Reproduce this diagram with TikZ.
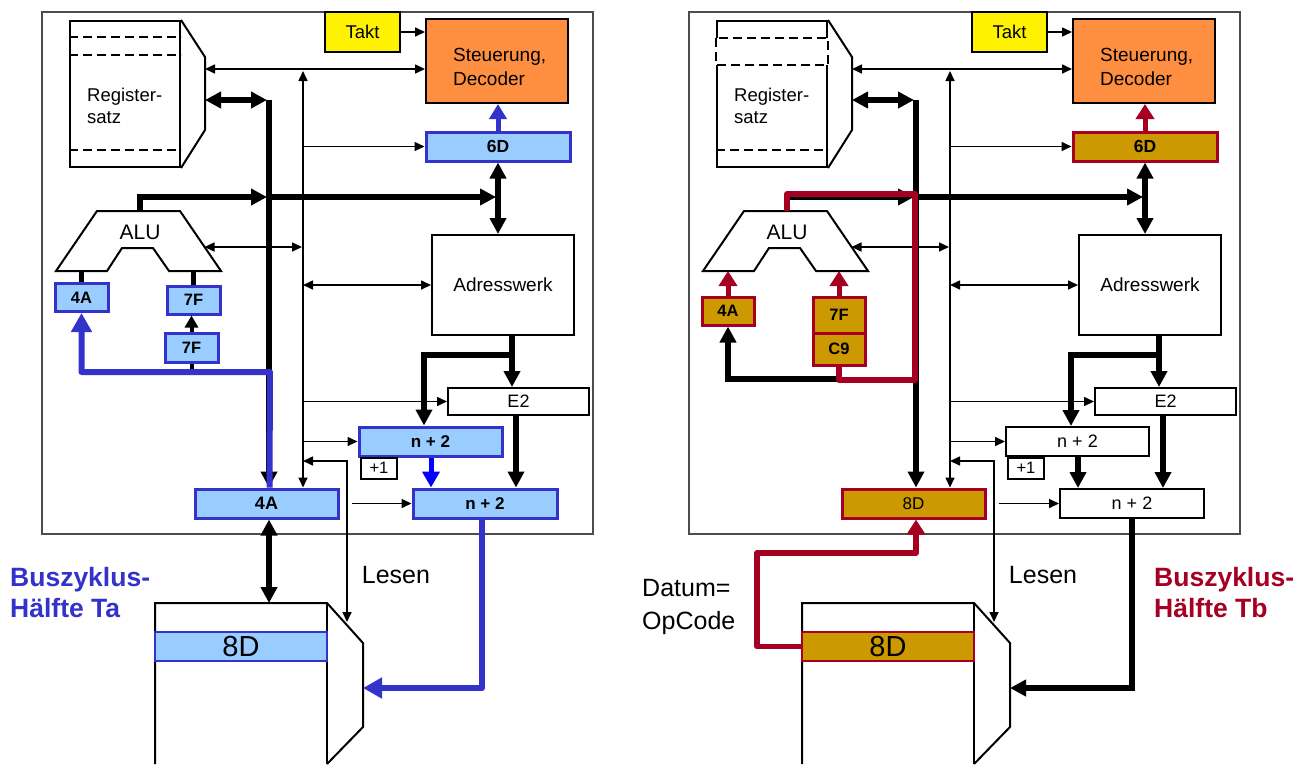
\documentclass[tikz,border=0pt]{standalone}
\usepackage{fontspec}
\setmainfont{Liberation Sans}
\usetikzlibrary{arrows.meta}

\definecolor{paleblue}{HTML}{99CCFF}
\definecolor{penblue}{HTML}{3333CC}
\definecolor{pureblue}{HTML}{0000FF}
\definecolor{ochre}{HTML}{CC9900}
\definecolor{wine}{HTML}{A50021}
\definecolor{ctrlorange}{HTML}{FF8F40}

\newcommand{\fsz}[2]{\fontsize{#1}{#2}\selectfont}

% everything both CPU panels share; #1 = contents of the bus register
\newcommand{\cpupanel}[1]{%
  \draw[panel] (42,12) rectangle (593,534);
  % register file
  \node[unit, anchor=north west, minimum width=110, minimum height=146] (regs) at (69,20) {};
  \draw[unit] (regs.north east) -- ++(24,37) coordinate (rport) -- ++(0,73) -- (regs.south east);
  \draw[slot] (regs.west |- 0,150) -- (regs.east |- 0,150);
  \node[txt, anchor=west, font=\fsz{18.5}{22}] (regname) at (87,106) {Register-\\satz};
  % clock and control unit
  \node[unit, fill=yellow, minimum width=75, minimum height=40, font=\fsz{18.5}{22}] (takt) at (362.5,32) {Takt};
  \node[unit, fill=ctrlorange, minimum width=142, minimum height=84] (ctrl) at (497,61) {};
  \node[txt, anchor=west, font=\fsz{19}{24}] (ctrlname) at (453,67) {Steuerung,\\Decoder};
  \node[hot, minimum width=144, minimum height=29, font=\bfseries\fsz{17.5}{20}] (ir) at (498,146.5) {6D};
  % ALU
  \draw[unit] (56,271) -- (97,211) -- (180,211) -- (221,271) -- (169,271)
    -- (153,248) -- (122,248) -- (107,271) -- cycle;
  \node[txt, font=\fsz{21}{24}] (alu) at (140,232) {ALU};
  \coordinate (aluout) at (140,211);
  \coordinate (aluport) at (204.5,247);
  \coordinate (alubase) at (0,271);
  % address unit and program counter
  \node[unit, minimum width=142, minimum height=100, font=\fsz{19}{22}] (adr) at (503,285) {Adresswerk};
  \node[unit, minimum width=141, minimum height=27, font=\fsz{18}{20}] (ea) at (518.5,401.5) {E2};
  \node[pcbox, minimum width=143, minimum height=29] (pcnext) at (430.5,441.5) {n + 2};
  \node[unit, anchor=north west, minimum width=36, minimum height=21, font=\fsz{16.5}{18}] (inc) at (360,456.5) {+1};
  \node[pcbox, minimum width=144, minimum height=29] (pc) at (485,503.5) {n + 2};
  \node[mbrbox, minimum width=143, minimum height=29] (mbr) at (266.5,503.5) {#1};
  % memory
  \draw[unit] (155,764) -- (155,603) -- (327,603) -- (363,643) -- (363,727) -- (327,764);
  \draw[unit] (327,603) -- (327,764);
  \node[memcell, minimum width=172, minimum height=29, font=\fsz{29}{32}] (cell) at (241,646.5) {8D};
  \coordinate (mport) at (363,688);
  \node[txt, font=\fsz{25}{28}] (rdname) at (396,575) {Lesen};
  % control lines
  \coordinate (cb) at (303,71);
  \coordinate (sel) at (0,69);
  \draw[sig,->] (takt.east) -- (ctrl.west |- takt.east);
  \draw[sig,<->] (rport |- sel) -- (ctrl.west |- sel);
  \draw[sig,<->] (cb) -- (cb |- mbr.north);
  \draw[sig,->] (cb |- ir.west) -- (ir.west);
  \draw[sig,<->] (aluport) -- ([xshift=-1pt]cb |- aluport);
  \draw[sig,<->] (cb |- adr.west) -- (adr.west);
  \draw[sig,->] (cb |- ea.west) -- (ea.west);
  \draw[sig,->] (cb |- pcnext.west) -- (pcnext.west);
  \coordinate (rd) at (347,461);
  \draw[sig,<->] (cb |- rd) -- (rd) -- (rd |- 0,622);
  \draw[sig,->] ([xshift=12pt]mbr.east) -- (pc.west);
  % data paths
  \coordinate (db) at (269,100);
  \coordinate (res) at (0,197);
  \draw[bus,<->] (rport |- db) -- ([xshift=-2pt]db);
  \draw[bus,->] (db) -- (db |- mbr.north);
  \draw[bus,->] (aluout) |- ([xshift=-2pt]db |- res);
  \draw[bus,->] (db |- res) -- ([xshift=-2pt]ir.south |- res);
  \draw[bus,<->] (ir.south) -- (ir.south |- adr.north);
  \coordinate (ab) at (512,355);
  \draw[bus,->] (adr.south -| ab) -- (ea.north -| ab);
  \draw[bus,->] (ab) -| (pcnext.north -| 424,0);
  \draw[bus,->] (ea.south -| 516,0) -- (pc.north -| 516,0);
  \draw[incline] (pcnext.south -| 431,0) -- (pc.north -| 431,0);
  \draw[hotarrow] (ir.north) -- (ir.north |- ctrl.south);
}

\begin{document}
\begin{tikzpicture}[x=1pt,y=-1pt]
\tikzstyle{panel}=[draw=black!70, line width=1.5];
\tikzstyle{unit}=[draw, fill=white, line width=2];
\tikzstyle{txt}=[inner sep=0pt, align=left];
\tikzstyle{slot}=[line width=1.6, dash pattern=on 9pt off 5pt];
\tikzstyle{sig}=[line width=1.6, >={Triangle[length=10pt,width=9pt]}];
\tikzstyle{bus}=[line width=5.5, >={Triangle[length=16pt,width=16pt]}];
\tikzstyle{latch}=[line width=4, >={Triangle[length=12pt,width=13pt]}];
\useasboundingbox (0,0) rectangle (1311,764);
\fill[white] (0,0) rectangle (1311,764);

% first half of the bus cycle
\begin{scope}[name prefix=l-,
  hot/.style={draw=penblue, fill=paleblue, line width=3},
  pcbox/.style={hot, font=\bfseries\fsz{17}{20}},
  mbrbox/.style={hot, font=\bfseries\fsz{18}{20}},
  memcell/.style={hot, line width=2.5},
  hotarrow/.style={draw=penblue, line width=5, -{Triangle[length=15pt,width=17pt]}},
  incline/.style={draw=pureblue, line width=5, -{Triangle[length=16pt,width=17pt]}},
  flow/.style={draw=penblue, line width=6, line join=round, >={Triangle[length=19pt,width=20pt]}}]
\cpupanel{4A}
\draw[slot] (regs.west |- 0,37) -- (regs.east |- 0,37);
\draw[slot] (regs.west |- 0,55) -- (regs.east |- 0,55);
\draw[bus,<->] (mbr.south -| db) -- (db |- 0,603);
% operand latches
\node[hot, minimum width=53, minimum height=28, font=\bfseries\fsz{16.5}{18}] (opa) at (81.5,297.5) {4A};
\node[hot, minimum width=53, minimum height=28, font=\bfseries\fsz{16.5}{18}] (opb) at (193.5,300) {7F};
\node[hot, minimum width=53, minimum height=29, font=\bfseries\fsz{16.5}{18}] (opc) at (191.5,347.5) {7F};
\draw[bus] (opa.north) -- (opa.north |- alubase);
\draw[bus] (opb.north) -- (opb.north |- alubase);
\draw[latch,->] (opc.north) -- (opc.north |- opb.south);
\coordinate (fw) at (0,372);
\draw[latch] (opc.south) -- (opc.south |- fw);
% operand over the bus, address out to memory
\draw[flow,->] ([xshift=3pt]mbr.north) -- ([xshift=1pt]db |- fw) -| (opa.south);
\draw[flow,->] (pc.south -| 482,0) |- (mport);
\end{scope}

% second half of the bus cycle
\begin{scope}[xshift=647pt, name prefix=r-,
  hot/.style={draw=wine, fill=ochre, line width=3},
  pcbox/.style={unit, font=\fsz{18}{20}},
  mbrbox/.style={hot, font=\fsz{17}{20}},
  memcell/.style={hot, line width=2.5},
  hotarrow/.style={draw=wine, line width=5, -{Triangle[length=15pt,width=18pt]}},
  incline/.style={bus, ->},
  flow/.style={draw=wine, line width=5.5, line join=round, >={Triangle[length=15pt,width=18pt]}}]
\cpupanel{8D}
% selected register
\fill[white] (67,38) rectangle (182,65);
\draw[slot] (regs.west |- 0,38) rectangle (regs.east |- 0,65);
% operand latches
\node[hot, minimum width=52, minimum height=28, font=\bfseries\fsz{16.5}{18}] (opa) at (81,311) {4A};
\node[hot, minimum width=52, minimum height=36, font=\bfseries\fsz{16.5}{18}] (opb) at (192,315) {7F};
\node[hot, minimum width=52, minimum height=32, font=\bfseries\fsz{16.5}{18}] (opc) at (192,349) {C9};
\draw[hotarrow] (opa.north) -- (opa.north |- alubase);
\draw[hotarrow] (opb.north) -- (opb.north |- alubase);
\coordinate (fw) at (0,379);
\draw[bus,->] (opc.south |- fw) -| (opa.south);
% ALU result into the latch, opcode fetched from memory
\draw[flow] (aluout) |- ([xshift=-1pt]db |- 0,194) |- (opc.south |- 0,380) -- (opc.south);
\draw[flow,->] (cell.west) -| (110,553) -- (db |- 0,553) -- (db |- mbr.south);
\draw[bus,->] (pc.south -| 485,0) |- (mport);
\end{scope}

\node[txt, anchor=west, text=penblue, font=\bfseries\fsz{26.5}{31}] (tahalf) at (10,592.5) {Buszyklus-\\Hälfte Ta};
\node[txt, anchor=west, font=\fsz{25}{33}] (opnote) at (642,606.5) {Datum=\\OpCode};
\node[txt, anchor=west, text=wine, font=\bfseries\fsz{26.5}{31}] (tbhalf) at (1154,592.5) {Buszyklus-\\Hälfte Tb};
\end{tikzpicture}
\end{document}
